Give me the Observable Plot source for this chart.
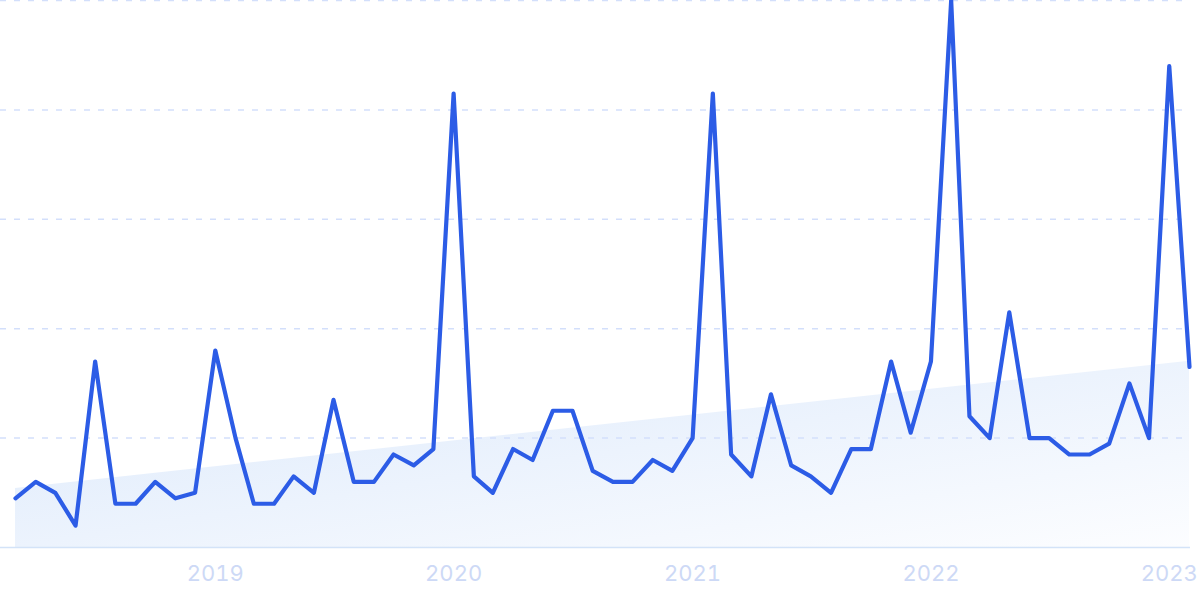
<!DOCTYPE html>
<html>
<head>
<meta charset="utf-8">
<script src="https://cdn.jsdelivr.net/npm/d3@7"></script>
<script src="https://cdn.jsdelivr.net/npm/@observablehq/plot@0.6"></script>
<style>
  html, body { margin: 0; padding: 0; background: #ffffff; }
  #chart { width: 1200px; height: 599px; overflow: hidden; }
</style>
</head>
<body>
<div id="chart"></div>
<script>
const months = [
  "2018-03","2018-04","2018-05","2018-06","2018-07","2018-08","2018-09","2018-10","2018-11","2018-12",
  "2019-01","2019-02","2019-03","2019-04","2019-05","2019-06","2019-07","2019-08","2019-09","2019-10","2019-11","2019-12",
  "2020-01","2020-02","2020-03","2020-04","2020-05","2020-06","2020-07","2020-08","2020-09","2020-10","2020-11","2020-12",
  "2021-01","2021-02","2021-03","2021-04","2021-05","2021-06","2021-07","2021-08","2021-09","2021-10","2021-11","2021-12",
  "2022-01","2022-02","2022-03","2022-04","2022-05","2022-06","2022-07","2022-08","2022-09","2022-10","2022-11","2022-12",
  "2023-01","2023-02"
];
const interest = [
  9, 12, 10, 4, 34, 8, 8, 12, 9, 10,
  36, 20, 8, 8, 13, 10, 27, 12, 12, 17, 15, 18,
  83, 13, 10, 18, 16, 25, 25, 14, 12, 12, 16, 14,
  20, 83, 17, 13, 28, 15, 13, 10, 18, 18, 34, 21,
  34, 100, 24, 20, 43, 20, 20, 17, 17, 19, 30, 20,
  88, 33
];
const yearTicks = ["2019-01","2020-01","2021-01","2022-01","2023-01"];
const gridValues = [20, 40, 60, 80, 100];

const parse = d3.utcParse("%Y-%m");
const data = months.map((m, i) => ({date: parse(m), value: interest[i]}));

// linear trend (least squares) derived from the data
const n = data.length;
const xs = d3.range(n);
const mx = d3.mean(xs), my = d3.mean(interest);
const slope = d3.sum(xs, i => (i - mx) * (interest[i] - my)) / d3.sum(xs, i => (i - mx) ** 2);
const icpt = my - slope * mx;
const trend = [
  {date: data[0].date, value: icpt},
  {date: data[n - 1].date, value: icpt + slope * (n - 1)}
];

const defs = () => {
  const d = d3.create("svg:defs");
  const g = d.append("linearGradient").attr("id", "trendGrad")
    .attr("x1", "0").attr("y1", "0").attr("x2", "1").attr("y2", "1");
  g.append("stop").attr("offset", "0%").attr("stop-color", "#dce9fb");
  g.append("stop").attr("offset", "100%").attr("stop-color", "#fcfdff");
  return d.node();
};

const chart = Plot.plot({
  width: 1200,
  height: 599,
  marginLeft: 0,
  marginRight: 10,
  marginTop: 0,
  marginBottom: 52,
  style: {fontFamily: "Inter, 'Noto Sans', sans-serif", background: "#ffffff"},
  x: {type: "utc", range: [15, 1189]},
  y: {domain: [0, 100], axis: null},
  marks: [
    defs,
    Plot.areaY(trend, {x: "date", y: "value", fill: "url(#trendGrad)"}),
    Plot.ruleY(gridValues, {stroke: "#d3dffb", strokeWidth: 1.5, strokeDasharray: "6,8"}),
    Plot.ruleY([0], {stroke: "#d3e3f8", strokeWidth: 1.5}),
    Plot.lineY(data, {x: "date", y: "value", stroke: "#2c5ce6", strokeWidth: 4.2}),
    Plot.axisX(yearTicks.map(parse), {
      tickSize: 0, tickPadding: 18, tickFormat: d3.utcFormat("%Y"),
      fontSize: 22, fill: "#cdd9f6", label: null
    })
  ]
});
document.getElementById("chart").appendChild(chart);
</script>
</body>
</html>
